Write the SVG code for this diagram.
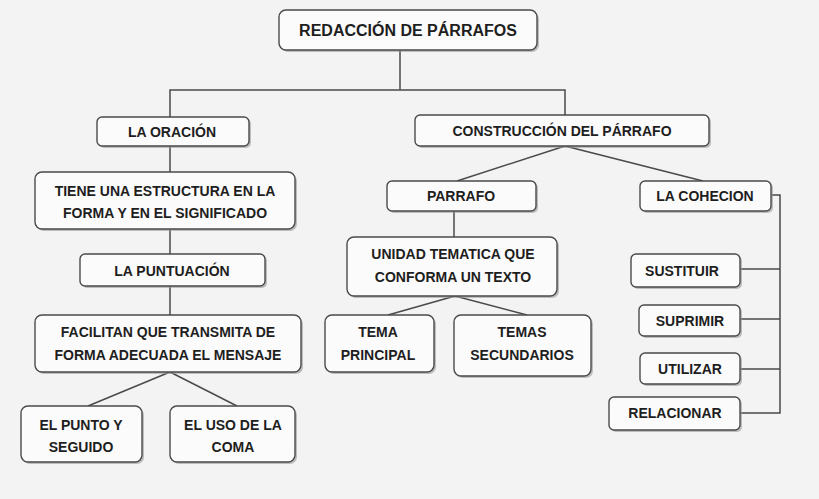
<svg xmlns="http://www.w3.org/2000/svg" width="819" height="499" viewBox="0 0 819 499">
<defs>
<style>
.box{fill:#fbfbfb;stroke:#4a4a4a;stroke-width:1.4}
.sh{fill:#9a9a9a;opacity:0.6}
text{font-family:"Liberation Sans",Arial,sans-serif;font-weight:bold;font-size:14px;fill:#1e1e1e;text-anchor:middle;dominant-baseline:central}
.t{font-size:16px}
.c line,.c polyline{stroke:#4a4a4a;stroke-width:1.5;fill:none}
</style>
</defs>
<rect width="819" height="499" fill="#f3f3f3"/>
<g class="c">
<polyline points="400,50 400,90"/>
<polyline points="170,117 170,90 565,90 565,115"/>
<line x1="170" y1="146" x2="170" y2="172"/>
<line x1="170" y1="229" x2="170" y2="254"/>
<line x1="170" y1="286" x2="170" y2="315"/>
<line x1="170" y1="372" x2="88" y2="406"/>
<line x1="170" y1="372" x2="237" y2="406"/>
<line x1="565" y1="146" x2="457" y2="181"/>
<line x1="565" y1="146" x2="703" y2="181"/>
<line x1="454" y1="211" x2="454" y2="237"/>
<line x1="455" y1="296" x2="388" y2="315"/>
<line x1="455" y1="296" x2="527" y2="315"/>
<polyline points="771,195 780,195 780,413 740,413"/>
<line x1="740" y1="269" x2="780" y2="269"/>
<line x1="740" y1="319" x2="780" y2="319"/>
<line x1="740" y1="369" x2="780" y2="369"/>
</g>
<g id="n-title"><rect class="sh" x="281" y="12" width="258" height="40" rx="7"/><rect class="box" x="279" y="10" width="258" height="40" rx="7"/><text class="t" x="408" y="30">REDACCIÓN DE PÁRRAFOS</text></g>
<g id="n-oracion"><rect class="sh" x="99" y="119" width="152" height="29" rx="5"/><rect class="box" x="97" y="117" width="152" height="29" rx="5"/><text x="172" y="132">LA ORACIÓN</text></g>
<g id="n-construccion"><rect class="sh" x="417" y="117" width="294" height="31" rx="5"/><rect class="box" x="415" y="115" width="294" height="31" rx="5"/><text x="562" y="131">CONSTRUCCIÓN DEL PÁRRAFO</text></g>
<g id="n-tiene"><rect class="sh" x="37" y="174" width="260" height="57" rx="7"/><rect class="box" x="35" y="172" width="260" height="57" rx="7"/><text x="165" y="191">TIENE UNA ESTRUCTURA EN LA</text><text x="165" y="213">FORMA Y EN EL SIGNIFICADO</text></g>
<g id="n-puntuacion"><rect class="sh" x="82" y="256" width="185" height="32" rx="5"/><rect class="box" x="80" y="254" width="185" height="32" rx="5"/><text x="172" y="271">LA PUNTUACIÓN</text></g>
<g id="n-facilitan"><rect class="sh" x="37" y="317" width="266" height="57" rx="7"/><rect class="box" x="35" y="315" width="266" height="57" rx="7"/><text x="168" y="332">FACILITAN QUE TRANSMITA DE</text><text x="168" y="355">FORMA ADECUADA EL MENSAJE</text></g>
<g id="n-punto"><rect class="sh" x="23" y="408" width="121" height="56" rx="7"/><rect class="box" x="21" y="406" width="121" height="56" rx="7"/><text x="81" y="425">EL PUNTO Y</text><text x="81" y="447">SEGUIDO</text></g>
<g id="n-coma"><rect class="sh" x="172" y="408" width="125" height="56" rx="7"/><rect class="box" x="170" y="406" width="125" height="56" rx="7"/><text x="233" y="425">EL USO DE LA</text><text x="233" y="447">COMA</text></g>
<g id="n-parrafo"><rect class="sh" x="389" y="183" width="149" height="30" rx="5"/><rect class="box" x="387" y="181" width="149" height="30" rx="5"/><text x="461" y="196">PARRAFO</text></g>
<g id="n-cohecion"><rect class="sh" x="642" y="183" width="131" height="30" rx="5"/><rect class="box" x="640" y="181" width="131" height="30" rx="5"/><text x="705" y="196">LA COHECION</text></g>
<g id="n-unidad"><rect class="sh" x="349" y="239" width="210" height="59" rx="7"/><rect class="box" x="347" y="237" width="210" height="59" rx="7"/><text x="453" y="254">UNIDAD TEMATICA QUE</text><text x="453" y="277">CONFORMA UN TEXTO</text></g>
<g id="n-principal"><rect class="sh" x="327" y="317" width="109" height="57" rx="7"/><rect class="box" x="325" y="315" width="109" height="57" rx="7"/><text x="378" y="332">TEMA</text><text x="378" y="355">PRINCIPAL</text></g>
<g id="n-secundarios"><rect class="sh" x="456" y="317" width="137" height="61" rx="7"/><rect class="box" x="454" y="315" width="137" height="61" rx="7"/><text x="522" y="332">TEMAS</text><text x="522" y="355">SECUNDARIOS</text></g>
<g id="n-sustituir"><rect class="sh" x="633" y="256" width="109" height="33" rx="5"/><rect class="box" x="631" y="254" width="109" height="33" rx="5"/><text x="682" y="271">SUSTITUIR</text></g>
<g id="n-suprimir"><rect class="sh" x="641" y="307" width="101" height="31" rx="5"/><rect class="box" x="639" y="305" width="101" height="31" rx="5"/><text x="690" y="321">SUPRIMIR</text></g>
<g id="n-utilizar"><rect class="sh" x="642" y="355" width="100" height="31" rx="5"/><rect class="box" x="640" y="353" width="100" height="31" rx="5"/><text x="690" y="369">UTILIZAR</text></g>
<g id="n-relacionar"><rect class="sh" x="611" y="399" width="131" height="33" rx="5"/><rect class="box" x="609" y="397" width="131" height="33" rx="5"/><text x="675" y="413">RELACIONAR</text></g>
</svg>
